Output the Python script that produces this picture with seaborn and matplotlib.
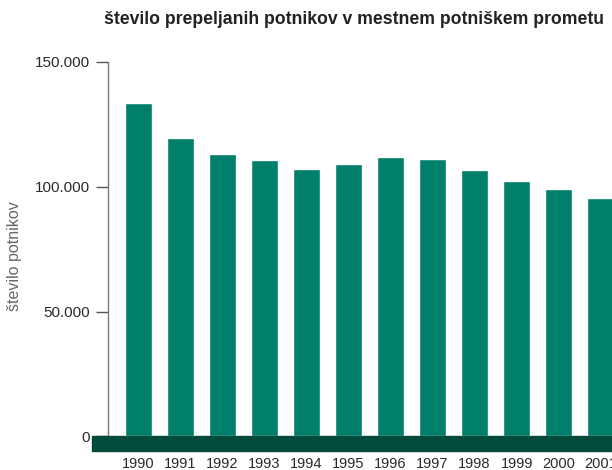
import matplotlib
matplotlib.use("Agg")
import matplotlib.pyplot as plt
import seaborn as sns
import pandas as pd

# podatki (odčitano s slike)
years = ["1990", "1991", "1992", "1993", "1994", "1995",
         "1996", "1997", "1998", "1999", "2000", "2001"]
passengers = [133600, 119600, 113200, 110800, 107200, 109200,
              112000, 111200, 106800, 102400, 99200, 95600]
ytick_values = [0, 50000, 100000, 150000]
ytick_labels = ["0", "50.000", "100.000", "150.000"]
title = "število prepeljanih potnikov v mestnem potniškem prometu"
ylabel = "število potnikov"

bar_color = "#00806b"
band_color = "#004b3c"

sns.set_style("white")
plt.rcParams["font.family"] = ["Liberation Sans", "DejaVu Sans"]

df = pd.DataFrame({"leto": years, "potniki": passengers})

fig = plt.figure(figsize=(6.12, 4.70), dpi=100)
ax = fig.add_axes([0.176, 0.0713, 0.824, 0.7968])

sns.barplot(data=df, x="leto", y="potniki", color=bar_color, saturation=1,
            width=0.643, ax=ax)

ax.set_xlim(-0.733, 11.27)
ax.set_ylim(0, 150000)

# temni pas pod osjo
ax.axhspan(-6000, 0, xmin=-0.031, xmax=1.0, color=band_color, clip_on=False, zorder=3)

for s in ["top", "right", "bottom"]:
    ax.spines[s].set_visible(False)
ax.spines["left"].set_color("#7a7a7a")
ax.spines["left"].set_linewidth(1.0)

ax.set_yticks(ytick_values)
ax.set_yticklabels(ytick_labels)
ax.tick_params(axis="y", length=9, width=1, color="#555555", pad=4,
               labelsize=11, labelcolor="#2a2a2a", left=True)
ax.tick_params(axis="x", length=0, pad=15, labelsize=10.5, labelcolor="#2a2a2a")
ax.set_xlabel("")
ax.set_ylabel("")

fig.text(0.578, 1 - 20 / 470, title, ha="center", va="center",
         fontsize=12.7, fontweight="bold", color="#222222")
fig.text(15 / 612, 1 - 256 / 470, ylabel, ha="center", va="center",
         rotation=90, fontsize=11.5, color="#666666")

fig.savefig("out.png", dpi=100)
